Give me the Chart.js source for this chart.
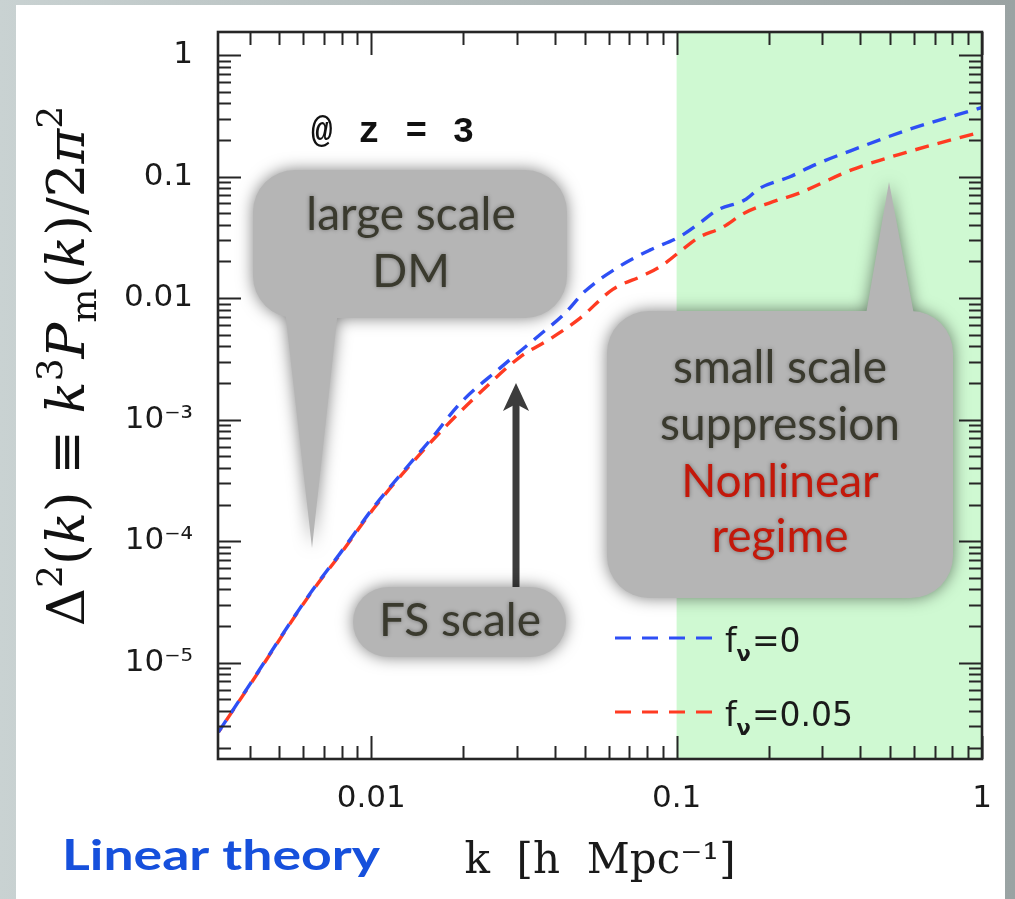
<!DOCTYPE html>
<html>
<head>
<meta charset="utf-8">
<script src="https://cdn.jsdelivr.net/npm/chart.js@4/dist/chart.umd.min.js"></script>
<style>
  html, body { margin: 0; padding: 0; background: #fff; }
  #wrap { width: 1015px; height: 899px; }
</style>
</head>
<body>
<div id="wrap"><canvas id="c" width="1015" height="899"></canvas></div>
<script>
// Linear matter power spectrum at z = 3, dimensionless form Δ²(k)
const kNu0 = [0.00316, 0.00403, 0.00632, 0.00792, 0.0102, 0.0131, 0.0156, 0.0196, 0.0264, 0.0356,
              0.0431, 0.0500, 0.0652, 0.0817, 0.102, 0.119, 0.136, 0.167, 0.187, 0.234, 0.282,
              0.396, 0.577, 1.0];
const delta2Nu0 = [2.68e-6, 6.78e-6, 3.73e-5, 7.96e-5, 1.91e-4, 4.07e-4, 6.78e-4, 1.37e-3, 2.65e-3, 4.96e-3,
                   7.5e-3, 0.0113, 0.0183, 0.0248, 0.0318, 0.0414, 0.053, 0.064, 0.080, 0.099, 0.124,
                   0.173, 0.244, 0.37];

const kNu005 = [0.00316, 0.00403, 0.00632, 0.00792, 0.0102, 0.0131, 0.0177, 0.0232, 0.0307, 0.0385,
                0.0482, 0.0618, 0.0785, 0.0900, 0.106, 0.119, 0.140, 0.167, 0.201, 0.252,
                0.376, 0.565, 1.0];
const delta2Nu005 = [2.68e-6, 6.7e-6, 3.68e-5, 7.8e-5, 1.86e-4, 3.95e-4, 9.0e-4, 1.75e-3, 3.27e-3, 4.6e-3,
                     6.8e-3, 0.0118, 0.0155, 0.0187, 0.0258, 0.0318, 0.0377, 0.0501, 0.0605, 0.0731,
                     0.114, 0.158, 0.234];

const seriesNames = ['f', 'f'];
const seriesSub = ['ν', 'ν'];
const seriesValues = ['=0', '=0.05'];
const seriesColors = ['#2e4ff5', '#ff3b22'];

const xTickValues = [0.01, 0.1, 1];
const xTickLabels = ['0.01', '0.1', '1'];
const yTickValues = [1e-5, 1e-4, 1e-3, 0.01, 0.1, 1];
const yTickLabels = ['10⁻⁵', '10⁻⁴', '10⁻³', '0.01', '0.1', '1'];

const nonlinearRange = [0.1, 1];

const INK = '#262626';
const CALLOUT_FILL = '#b5b5b5';
const CALLOUT_TEXT = '#3a3a2e';
const CALLOUT_RED = '#c3180a';

// log-decade tick positions (1..9 × 10^n) inside [min, max]
function decadeTicks(min, max) {
  const out = [];
  for (let d = Math.floor(Math.log10(min)); d <= Math.ceil(Math.log10(max)); d++) {
    for (let m = 1; m <= 9; m++) {
      const v = m * Math.pow(10, d);
      if (v >= min * 0.9999 && v <= max * 1.0001) out.push({ v, major: m === 1 });
    }
  }
  return out;
}

function bubblePath(ctx, x, y, w, h, r, tail) {
  ctx.beginPath();
  ctx.roundRect(x, y, w, h, r);
  if (tail) {
    ctx.moveTo(tail[0][0], tail[0][1]);
    ctx.lineTo(tail[1][0], tail[1][1]);
    ctx.lineTo(tail[2][0], tail[2][1]);
    ctx.closePath();
  }
}

function fillBubble(ctx, x, y, w, h, r, tail) {
  ctx.save();
  ctx.shadowColor = 'rgba(0,0,0,0.5)';
  ctx.shadowBlur = 16;
  ctx.fillStyle = CALLOUT_FILL;
  bubblePath(ctx, x, y, w, h, r, tail);
  ctx.fill('nonzero');
  ctx.restore();
}

function calloutText(ctx, lines, cx) {
  ctx.save();
  ctx.font = '46px Lato';
  ctx.textAlign = 'center';
  ctx.textBaseline = 'alphabetic';
  ctx.shadowColor = 'rgba(0,0,0,0.35)';
  ctx.shadowBlur = 4;
  lines.forEach(l => {
    ctx.fillStyle = l.color || CALLOUT_TEXT;
    ctx.fillText(l.text, cx, l.y);
  });
  ctx.restore();
}

// y-axis title as mixed upright / italic / script runs
const yTitleRuns = [
  { t: 'Δ' }, { t: '2', sup: true }, { t: '(' }, { t: 'k', it: true }, { t: ')' },
  { t: ' ≡ ' }, { t: 'k', it: true }, { t: '3', sup: true }, { t: 'P', it: true },
  { t: 'm', sub: true }, { t: '(' }, { t: 'k', it: true }, { t: ')' }, { t: '/2' },
  { t: 'π', it: true }, { t: '2', sup: true }
];

function drawRich(ctx, runs, size, family) {
  const fontOf = r => {
    const s = (r.sup || r.sub) ? size * 0.68 : size;
    return (r.it ? 'italic ' : '') + s + 'px ' + family;
  };
  let total = 0;
  runs.forEach(r => { ctx.font = fontOf(r); r.w = ctx.measureText(r.t).width; total += r.w; });
  let x = -total / 2;
  runs.forEach(r => {
    ctx.font = fontOf(r);
    const dy = r.sup ? -size * 0.42 : (r.sub ? size * 0.22 : 0);
    ctx.fillText(r.t, x, dy);
    x += r.w;
  });
}

const decorations = {
  id: 'decorations',
  beforeDraw(chart) {
    const ctx = chart.ctx;
    ctx.save();
    const g = ctx.createLinearGradient(0, 0, chart.width, 0);
    g.addColorStop(0, '#c9d2d2');
    g.addColorStop(1, '#9aa3a3');
    ctx.fillStyle = g;
    ctx.fillRect(0, 0, chart.width, chart.height);
    ctx.fillStyle = '#ffffff';
    ctx.fillRect(16, 5, 989, chart.height - 5);
    ctx.restore();
  },
  beforeDatasetsDraw(chart) {
    const { ctx, chartArea: a, scales: { x } } = chart;
    const x0 = x.getPixelForValue(nonlinearRange[0]);
    const x1 = x.getPixelForValue(nonlinearRange[1]);
    ctx.save();
    ctx.fillStyle = '#cff9d2';
    ctx.fillRect(x0, a.top, x1 - x0, a.bottom - a.top);
    ctx.restore();
  },
  afterDatasetsDraw(chart) {
    const { ctx, chartArea: a, scales: { x, y } } = chart;
    ctx.save();
    ctx.strokeStyle = INK;
    ctx.lineWidth = 2;
    const majorLen = 23, minorLen = 13;
    decadeTicks(x.min, x.max).forEach(t => {
      const px = Math.round(x.getPixelForValue(t.v)) + 0.5;
      const len = t.major ? majorLen : minorLen;
      ctx.beginPath();
      ctx.moveTo(px, a.bottom); ctx.lineTo(px, a.bottom - len);
      ctx.moveTo(px, a.top); ctx.lineTo(px, a.top + len);
      ctx.stroke();
    });
    decadeTicks(y.min, y.max).forEach(t => {
      const py = Math.round(y.getPixelForValue(t.v)) + 0.5;
      const len = t.major ? majorLen : minorLen;
      ctx.beginPath();
      ctx.moveTo(a.left, py); ctx.lineTo(a.left + len, py);
      ctx.moveTo(a.right, py); ctx.lineTo(a.right - len, py);
      ctx.stroke();
    });
    ctx.lineWidth = 2.6;
    ctx.strokeRect(a.left, a.top, a.right - a.left, a.bottom - a.top);
    ctx.restore();

    // legend inside the plot
    ctx.save();
    const lx0 = 615, lx1 = 712, ly0 = 638, gap = 74;
    chart.data.datasets.forEach((ds, i) => {
      const ly = ly0 + i * gap;
      ctx.strokeStyle = ds.borderColor;
      ctx.lineWidth = 3;
      ctx.setLineDash([16, 11]);
      ctx.beginPath(); ctx.moveTo(lx0, ly); ctx.lineTo(lx1, ly); ctx.stroke();
      ctx.setLineDash([]);
      ctx.fillStyle = '#1a1a1a';
      ctx.textBaseline = 'alphabetic';
      let tx = 725;
      ctx.font = '33px "DejaVu Sans"';
      ctx.fillText(seriesNames[i], tx, ly + 14);
      tx += ctx.measureText(seriesNames[i]).width;
      ctx.font = 'bold 21px "DejaVu Sans"';
      ctx.fillText(seriesSub[i], tx, ly + 23);
      tx += ctx.measureText(seriesSub[i]).width + 1;
      ctx.font = '33px "DejaVu Sans"';
      ctx.fillText(seriesValues[i], tx, ly + 14);
    });
    ctx.restore();
  },
  afterDraw(chart) {
    const ctx = chart.ctx;

    // redshift label
    ctx.save();
    ctx.fillStyle = '#111';
    ctx.font = 'bold 36px "Liberation Mono"';
    ctx.letterSpacing = '2px';
    ctx.textBaseline = 'alphabetic';
    ctx.fillText('@ z = 3', 311, 142);
    ctx.restore();

    // callouts
    fillBubble(ctx, 253, 170, 314, 148, 42, [[338, 310], [312, 548], [285, 310]]);
    calloutText(ctx, [{ text: 'large scale', y: 230 }, { text: 'DM', y: 287 }], 411);

    fillBubble(ctx, 607, 311, 346, 287, 42, [[865, 320], [889, 182], [915, 320]]);
    calloutText(ctx, [
      { text: 'small scale', y: 383 },
      { text: 'suppression', y: 440 },
      { text: 'Nonlinear', y: 497, color: CALLOUT_RED },
      { text: 'regime', y: 552, color: CALLOUT_RED }
    ], 780);

    // free-streaming scale marker
    ctx.save();
    ctx.fillStyle = '#3c3c3c';
    ctx.strokeStyle = '#3c3c3c';
    ctx.lineWidth = 7;
    ctx.beginPath(); ctx.moveTo(516, 600); ctx.lineTo(516, 402); ctx.stroke();
    ctx.beginPath();
    ctx.moveTo(516, 383); ctx.lineTo(529, 411); ctx.lineTo(516, 404); ctx.lineTo(503, 411);
    ctx.closePath(); ctx.fill();
    ctx.restore();

    fillBubble(ctx, 353, 587, 213, 70, 35, null);
    calloutText(ctx, [{ text: 'FS scale', y: 636 }], 460);

    // y-axis title
    ctx.save();
    ctx.fillStyle = '#111';
    ctx.textBaseline = 'alphabetic';
    ctx.translate(84, 366);
    ctx.rotate(-Math.PI / 2);
    drawRich(ctx, yTitleRuns, 53, '"DejaVu Serif"');
    ctx.restore();

    // regime tag
    ctx.save();
    ctx.font = 'bold 42px Lato';
    const w = ctx.measureText('Linear theory').width;
    ctx.translate(62, 870);
    ctx.scale(318 / w, 1);
    ctx.fillStyle = '#1650dc';
    ctx.fillText('Linear theory', 0, 0);
    ctx.restore();
  }
};

const chart = new Chart(document.getElementById('c'), {
  type: 'line',
  data: {
    datasets: [
      {
        label: seriesNames[0] + seriesSub[0] + seriesValues[0],
        data: kNu0.map((k, i) => ({ x: k, y: delta2Nu0[i] })),
        borderColor: seriesColors[0],
        borderWidth: 3.4,
        borderDash: [14, 9],
        pointRadius: 0,
        cubicInterpolationMode: 'monotone',
        fill: false
      },
      {
        label: seriesNames[1] + seriesSub[1] + seriesValues[1],
        data: kNu005.map((k, i) => ({ x: k, y: delta2Nu005[i] })),
        borderColor: seriesColors[1],
        borderWidth: 3.4,
        borderDash: [14, 9],
        borderDashOffset: 9,
        pointRadius: 0,
        cubicInterpolationMode: 'monotone',
        fill: false
      }
    ]
  },
  options: {
    responsive: false,
    animation: false,
    layout: { padding: { left: 0, top: 32, right: 33, bottom: 0 } },
    plugins: { legend: { display: false }, tooltip: { enabled: false } },
    scales: {
      x: {
        type: 'logarithmic',
        min: 0.00315,
        max: 1,
        afterBuildTicks: s => { s.ticks = xTickValues.map(v => ({ value: v })); },
        afterFit: s => { s.height = 140; s.paddingLeft = 0; s.paddingRight = 0; },
        ticks: {
          callback: (v, i) => xTickLabels[i],
          font: { family: 'DejaVu Sans', size: 31 },
          color: '#1a1a1a',
          padding: 21,
          maxRotation: 0,
          autoSkip: false
        },
        grid: { display: false, drawTicks: false },
        border: { display: false },
        title: {
          display: true,
          text: 'k  [h  Mpc⁻¹]',
          font: { family: 'DejaVu Serif', size: 42 },
          color: '#1a1a1a',
          padding: { top: 0, bottom: 12 }
        }
      },
      y: {
        type: 'logarithmic',
        min: 1.61e-6,
        max: 1.546,
        afterBuildTicks: s => { s.ticks = yTickValues.map(v => ({ value: v })); },
        afterFit: s => { s.width = 218; s.paddingTop = 0; s.paddingBottom = 0; },
        ticks: {
          callback: (v, i) => yTickLabels[i],
          font: { family: 'DejaVu Sans', size: 31 },
          color: '#1a1a1a',
          padding: 25,
          autoSkip: false
        },
        grid: { display: false, drawTicks: false },
        border: { display: false }
      }
    }
  },
  plugins: [decorations]
});
</script>
</body>
</html>
